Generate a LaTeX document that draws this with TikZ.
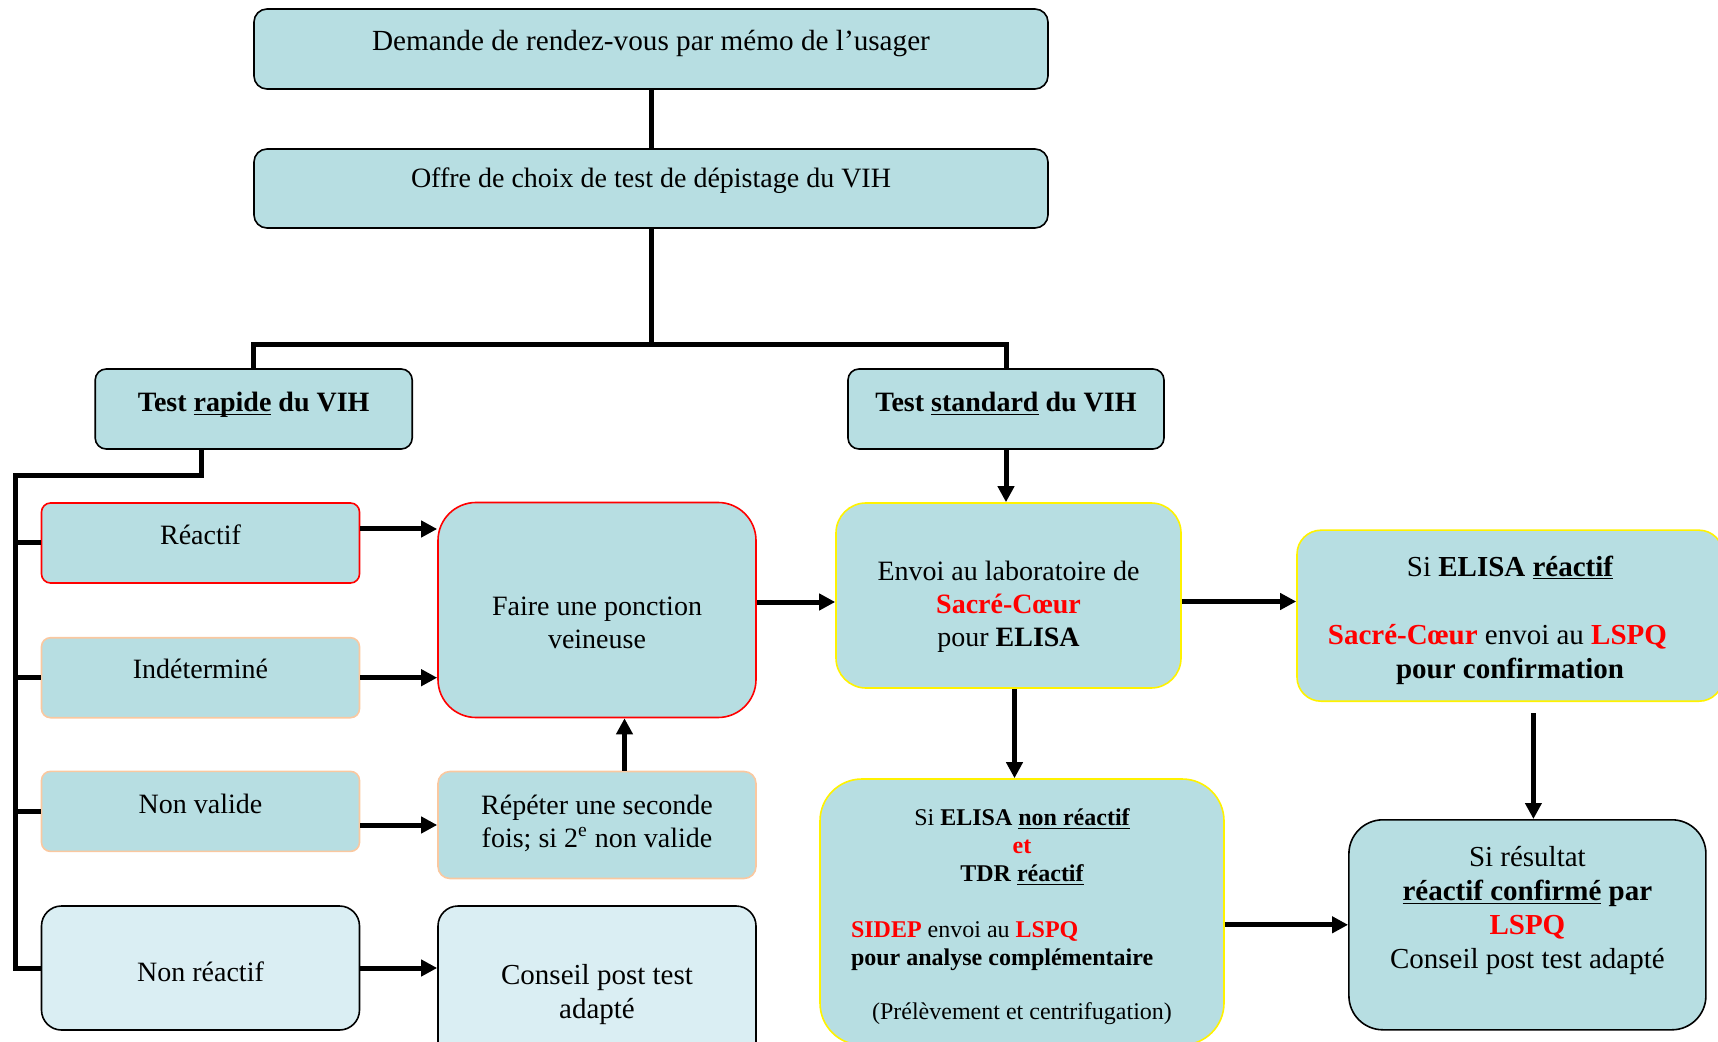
\documentclass[tikz,border=0pt]{standalone}
\usepackage{fontspec}
\setmainfont{Liberation Serif}
\usepackage{tikz}
\usepackage{xcolor}
\usetikzlibrary{positioning, arrows.meta}

\definecolor{boxfill}{RGB}{183,222,226}
\definecolor{palefill}{RGB}{218,238,243}
\definecolor{peach}{RGB}{250,200,160}

\newcommand{\ulin}[1]{\underline{\smash{#1}}}
\newcommand{\lift}[1]{\rule[-#1]{0pt}{#1}}
\newcommand{\drop}[1]{\rule{0pt}{#1}}

\tikzset{
    box/.style={draw, rounded corners=#1, fill=boxfill, line width=0.8pt,
        inner sep=0pt, align=center, font=\fontsize{14}{16.4}\selectfont},
    box/.default=5pt,
    redbox/.style={box=#1, draw=red},
    peachbox/.style={box=#1, draw=peach},
    yellowbox/.style={box=#1, draw=yellow},
    palebox/.style={box=#1, fill=palefill},
    conn/.style={line width=2.5pt},
    arr/.style={conn, -{Triangle[length=8pt, width=8pt]}},
}

\begin{document}
\begin{tikzpicture}[x=0.5pt, y=-0.5pt]
    \useasboundingbox (0,0) rectangle (1718,1042);

    % top of the chart
    \node[box=6.5pt, minimum width=397pt, minimum height=40pt,
        font=\fontsize{14.6}{17}\selectfont] (demande) at (651,49)
        {Demande de rendez-vous par mémo de l’usager\lift{9pt}};
    \node[box=6.5pt, minimum width=397pt, minimum height=39.5pt] (offre) at (651,188.5)
        {Offre de choix de test de dépistage du VIH\lift{10.5pt}};
    \node[box=5.5pt, minimum width=158.5pt, minimum height=40pt] (rapide) at (253.7,409)
        {\textbf{Test \ulin{rapide} du VIH}\lift{7.5pt}};
    \node[box=5.5pt, minimum width=158pt, minimum height=40pt] (standard) at (1006,409)
        {\textbf{Test \ulin{standard} du VIH}\lift{7.5pt}};

    % results of the rapid test
    \node[redbox=4.5pt, minimum width=159pt, minimum height=40pt] (reactif) at (200.5,543)
        {Réactif\lift{7.9pt}};
    \node[peachbox=4.5pt, minimum width=159pt, minimum height=40pt] (indet) at (200.5,677.7)
        {Indéterminé\lift{8.8pt}};
    \node[peachbox=4.5pt, minimum width=159pt, minimum height=40pt] (nonvalide) at (200.5,811.4)
        {Non valide\lift{7.9pt}};
    \node[palebox=10pt, minimum width=159pt, minimum height=62pt] (nonreactif) at (200.5,968)
        {\drop{13.5pt}Non réactif};

    \node[redbox=19pt, minimum width=159pt, minimum height=107.5pt] (faire) at (597,610)
        {\drop{22.5pt}Faire une ponction\\ veineuse};
    \node[peachbox=6pt, minimum width=159pt, minimum height=53.5pt] (repeter) at (597,825)
        {Répéter une seconde\\ fois; si 2\textsuperscript{e} non valide\lift{4pt}};
    \node[palebox=10pt, minimum width=159pt, minimum height=85pt,
        font=\fontsize{14.5}{17}\selectfont] (conseil) at (597,991)
        {\drop{13.5pt}Conseil post test\\ adapté};

    % laboratory side
    \node[yellowbox=15pt, minimum width=172.5pt, minimum height=92.5pt] (envoi) at (1008.5,595.5)
        {\drop{21.2pt}Envoi au laboratoire de\\ \textcolor{red}{\textbf{Sacré-Cœur}}\\ pour \textbf{ELISA}};
    \node[yellowbox=12pt, minimum width=213pt, minimum height=85.5pt,
        font=\fontsize{14.5}{17}\selectfont] (elisaR) at (1510,615.7)
        {\drop{14.4pt}Si \textbf{ELISA \ulin{réactif}}\\[17pt]
         \textcolor{red}{\textbf{Sacré-Cœur}} envoi au \textcolor{red}{\textbf{LSPQ}}\kern12.6pt\relax\\
         \textbf{pour confirmation}};
    \node[yellowbox=21pt, minimum width=202pt, minimum height=133pt,
        font=\fontsize{12}{14}\selectfont] (elisaNR) at (1022,912)
        {\drop{12.7pt}Si \textbf{ELISA \ulin{non réactif}}\\
         \textcolor{red}{\textbf{et}}\\
         \textbf{TDR \ulin{réactif}}\\[14pt]
         \makebox[171pt][l]{\textcolor{red}{\textbf{SIDEP}} envoi au \textcolor{red}{\textbf{LSPQ}}}\\
         \makebox[171pt][l]{\textbf{pour analyse complémentaire}}\\[13pt]
         (Prélèvement et centrifugation)};
    \node[box=17pt, minimum width=178.5pt, minimum height=105pt,
        font=\fontsize{14.5}{17}\selectfont] (resultat) at (1527.4,924.8)
        {Si résultat\\
         \textbf{\ulin{réactif confirmé} par}\\
         \textcolor{red}{\textbf{LSPQ}}\\
         Conseil post test adapté\lift{17pt}};

    % connectors
    \coordinate (split) at (651,345);
    \coordinate (trunk) at (15,475.5);
    \draw[conn] (demande) -- (offre);
    \draw[conn] (offre) -- (split);
    \draw[conn] (rapide) |- (split) -| (standard);
    \draw[conn] ([xshift=-26pt]rapide.south) |- (trunk) |- (nonreactif.west);
    \draw[conn] (trunk |- reactif.west) -- (reactif.west);
    \draw[conn] (trunk |- indet.west) -- (indet.west);
    \draw[conn] (trunk |- nonvalide.west) -- (nonvalide.west);

    \draw[arr] ([yshift=7pt]reactif.east) -- ([yshift=7pt]reactif.east -| faire.west);
    \draw[arr] (indet.east) -- (indet.east -| faire.west);
    \draw[arr] (nonvalide.east |- repeter.west) -- (repeter.west);
    \draw[arr] ([xshift=13.75pt]repeter.north) -- ([xshift=13.75pt]repeter.north |- faire.south);
    \draw[arr] (nonreactif.east) -- (nonreactif.east -| conseil.west);
    \draw[arr] ([yshift=4pt]faire.east) -- ([yshift=4pt]faire.east -| envoi.west);
    \draw[arr] (standard.south) -- (standard.south |- envoi.north);
    \draw[arr] ([yshift=-3pt]envoi.east) -- ([yshift=-3pt]envoi.east -| elisaR.west);
    \draw[arr] ([xshift=3pt]envoi.south) -- ([xshift=3pt]envoi.south |- elisaNR.north);
    \draw[arr] ([xshift=3pt]resultat.north |- elisaR.south) ++(0,11) -- ([xshift=3pt]resultat.north);
    \draw[arr] (elisaNR.east |- resultat.west) -- (resultat.west);
\end{tikzpicture}
\end{document}
